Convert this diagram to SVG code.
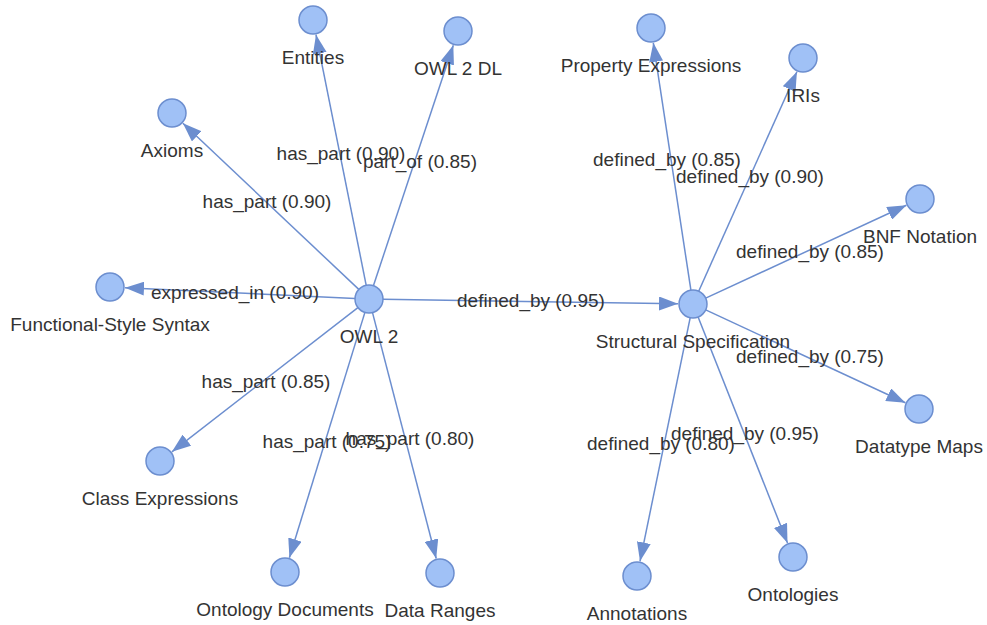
<svg xmlns="http://www.w3.org/2000/svg" width="987" height="625" viewBox="0 0 987 625">
<style>
.edge{stroke:#6c8ecf;stroke-width:1.5;fill:none;marker-end:url(#arrow)}
.node circle{fill:#a0c1f6;stroke:#6c8ecf;stroke-width:1.5}
text{font-family:"Liberation Sans",Arial,Helvetica,sans-serif;font-size:19px;fill:#333;text-anchor:middle}
</style>
<defs>
<marker id="arrow" markerUnits="userSpaceOnUse" markerWidth="20" markerHeight="14" refX="19" refY="7" orient="auto">
<path d="M0,0 L19,7 L0,14 z" fill="#6c8ecf"/>
</marker>
</defs>
<rect width="987" height="625" fill="#fff"/>
<g id="connectors">
<line class="edge" x1="366.2" y1="285.3" x2="316.0" y2="34.7"/>
<line class="edge" x1="373.4" y1="285.7" x2="453.3" y2="45.2"/>
<line class="edge" x1="358.8" y1="289.4" x2="182.9" y2="123.3"/>
<line class="edge" x1="355" y1="298.4" x2="125" y2="287.7"/>
<line class="edge" x1="357.9" y1="307.6" x2="171.9" y2="451.8"/>
<line class="edge" x1="364.9" y1="312.4" x2="289.4" y2="557.7"/>
<line class="edge" x1="372.5" y1="312.6" x2="436.2" y2="558.5"/>
<line class="edge" x1="383" y1="299.2" x2="678" y2="303.8"/>
<line class="edge" x1="690.9" y1="290.2" x2="653.3" y2="42.8"/>
<line class="edge" x1="698.7" y1="291.2" x2="796.9" y2="71.7"/>
<line class="edge" x1="705.7" y1="298.1" x2="906.4" y2="205.3"/>
<line class="edge" x1="705.7" y1="309.9" x2="905.4" y2="402.7"/>
<line class="edge" x1="698.1" y1="317" x2="787.5" y2="543"/>
<line class="edge" x1="690.2" y1="317.7" x2="640" y2="561.3"/>
<text x="341" y="160">has_part (0.90)</text>
<text x="420" y="168">part_of (0.85)</text>
<text x="267" y="208">has_part (0.90)</text>
<text x="235" y="299">expressed_in (0.90)</text>
<text x="266" y="388">has_part (0.85)</text>
<text x="327" y="448">has_part (0.75)</text>
<text x="410" y="445">has_part (0.80)</text>
<text x="531" y="307">defined_by (0.95)</text>
<text x="667" y="166">defined_by (0.85)</text>
<text x="750" y="183">defined_by (0.90)</text>
<text x="810" y="258">defined_by (0.85)</text>
<text x="810" y="363">defined_by (0.75)</text>
<text x="745" y="440">defined_by (0.95)</text>
<text x="661" y="450">defined_by (0.80)</text>
</g>
<g id="owl2" class="node"><circle cx="369" cy="299" r="14"/><text x="369" y="343">OWL 2</text></g>
<g id="structural-specification" class="node"><circle cx="693" cy="304" r="14"/><text x="693" y="348">Structural Specification</text></g>
<g id="entities" class="node"><circle cx="313" cy="20" r="14"/><text x="313" y="64">Entities</text></g>
<g id="owl2dl" class="node"><circle cx="458" cy="31" r="14"/><text x="458" y="75">OWL 2 DL</text></g>
<g id="axioms" class="node"><circle cx="172" cy="113" r="14"/><text x="172" y="157">Axioms</text></g>
<g id="functional-style-syntax" class="node"><circle cx="110" cy="287" r="14"/><text x="110" y="331">Functional-Style Syntax</text></g>
<g id="class-expressions" class="node"><circle cx="160" cy="461" r="14"/><text x="160" y="505">Class Expressions</text></g>
<g id="ontology-documents" class="node"><circle cx="285" cy="572" r="14"/><text x="285" y="616">Ontology Documents</text></g>
<g id="data-ranges" class="node"><circle cx="440" cy="573" r="14"/><text x="440" y="617">Data Ranges</text></g>
<g id="property-expressions" class="node"><circle cx="651" cy="28" r="14"/><text x="651" y="72">Property Expressions</text></g>
<g id="iris" class="node"><circle cx="803" cy="58" r="14"/><text x="803" y="102">IRIs</text></g>
<g id="bnf-notation" class="node"><circle cx="920" cy="199" r="14"/><text x="920" y="243">BNF Notation</text></g>
<g id="datatype-maps" class="node"><circle cx="919" cy="409" r="14"/><text x="919" y="453">Datatype Maps</text></g>
<g id="ontologies" class="node"><circle cx="793" cy="557" r="14"/><text x="793" y="601">Ontologies</text></g>
<g id="annotations" class="node"><circle cx="637" cy="576" r="14"/><text x="637" y="620">Annotations</text></g>
</svg>
